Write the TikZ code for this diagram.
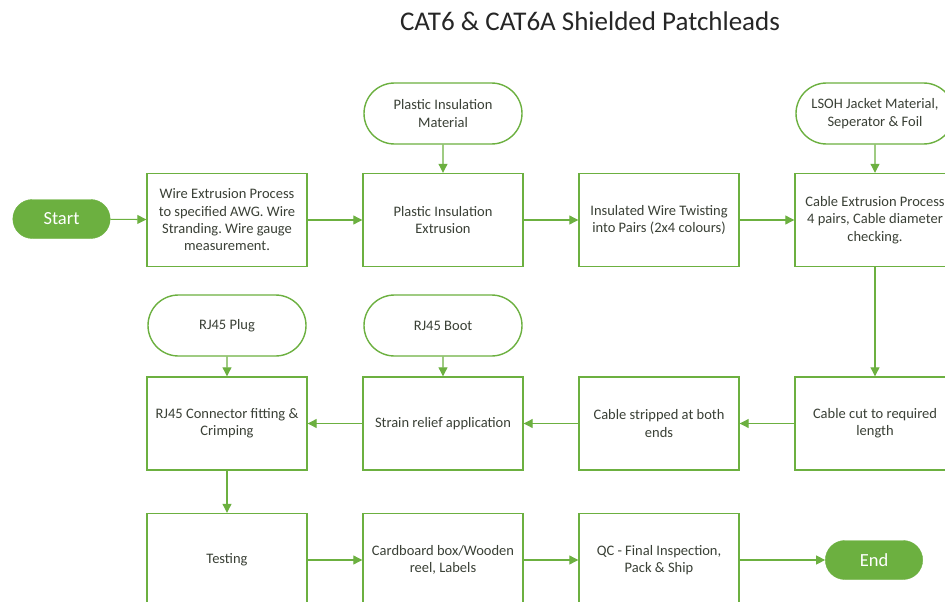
\documentclass[tikz,border=0pt]{standalone}
\usepackage{fontspec}
\setmainfont{Carlito}
\usetikzlibrary{shapes.misc,arrows.meta}
\definecolor{fgreen}{RGB}{108,176,64}
\definecolor{ftext}{RGB}{58,64,54}
\frenchspacing
\tikzset{
  procbox/.style={draw=fgreen,line width=1.4pt,minimum width=160pt,minimum height=93pt,inner sep=1pt,align=center,text=ftext,font=\fontsize{14.5}{17.3}\selectfont},
  termbox/.style={draw=fgreen,line width=1.4pt,rounded rectangle,minimum width=160pt,minimum height=61pt,inner sep=1pt,align=center,text=ftext,font=\fontsize{14.5}{17.3}\selectfont},
  pill/.style={fill=fgreen,draw=fgreen,rounded rectangle,minimum width=104pt,minimum height=39pt,text=white,font=\fontsize{18.5}{20}\selectfont},
  flow/.style={draw=fgreen,line width=1.1pt,-{Triangle[length=9pt,width=9pt]}}
}
\begin{document}
\begin{tikzpicture}[x=1pt,y=-1pt]
\useasboundingbox (0,0) rectangle (945,602);
\clip (0,0) rectangle (945,602);
\fill[white] (0,0) rectangle (945,602);
\node[font=\fontsize{27}{30}\selectfont,text=black!85] (title) at (590,21) {CAT6 \& CAT6A Shielded Patchleads};
% row 1
\node[pill] (start) at (61.5,219) {Start};
\node[procbox] (wire) at (227,220) {Wire Extrusion Process\\to specified AWG. Wire\\Stranding. Wire gauge\\measurement.};
\node[termbox] (pim) at (443,113.5) {Plastic Insulation\\Material};
\node[procbox] (pie) at (443,220) {Plastic Insulation\\Extrusion};
\node[procbox] (twist) at (659,220) {Insulated Wire Twisting\\into Pairs (2x4 colours)};
\node[termbox] (lsoh) at (875,113.5) {LSOH Jacket Material,\\Seperator \& Foil};
\node[procbox] (cext) at (875,220) {Cable Extrusion Process\\4 pairs, Cable diameter\\checking.};
% row 2
\node[termbox] (plug) at (227,325.5) {RJ45 Plug};
\node[termbox] (boot) at (443,325.5) {RJ45 Boot};
\node[procbox] (crimp) at (227,423.5) {RJ45 Connector fitting \&\\Crimping};
\node[procbox] (strain) at (443,423.5) {Strain relief application};
\node[procbox] (strip) at (659,423.5) {Cable stripped at both\\ends};
\node[procbox] (cut) at (875,423.5) {Cable cut to required\\length};
% row 3
\node[procbox] (test) at (227,560) {Testing};
\node[procbox] (pack) at (443,560) {Cardboard box/Wooden\\reel, Labels};
\node[procbox] (qc) at (659,560) {QC - Final Inspection,\\Pack \& Ship};
\node[pill] (end) at (874,560) {End};
% connectors
\draw[flow] (start) -- (wire);
\draw[flow] (wire) -- (pie);
\draw[flow] (pie) -- (twist);
\draw[flow] (twist) -- (cext);
\draw[flow] (pim) -- (pie);
\draw[flow] (lsoh) -- (cext);
\draw[flow] (cext) -- (cut);
\draw[flow] (cut) -- (strip);
\draw[flow] (strip) -- (strain);
\draw[flow] (strain) -- (crimp);
\draw[flow] (plug) -- (crimp);
\draw[flow] (boot) -- (strain);
\draw[flow] (crimp) -- (test);
\draw[flow] (test) -- (pack);
\draw[flow] (pack) -- (qc);
\draw[flow] (qc) -- (end);
\end{tikzpicture}
\end{document}
